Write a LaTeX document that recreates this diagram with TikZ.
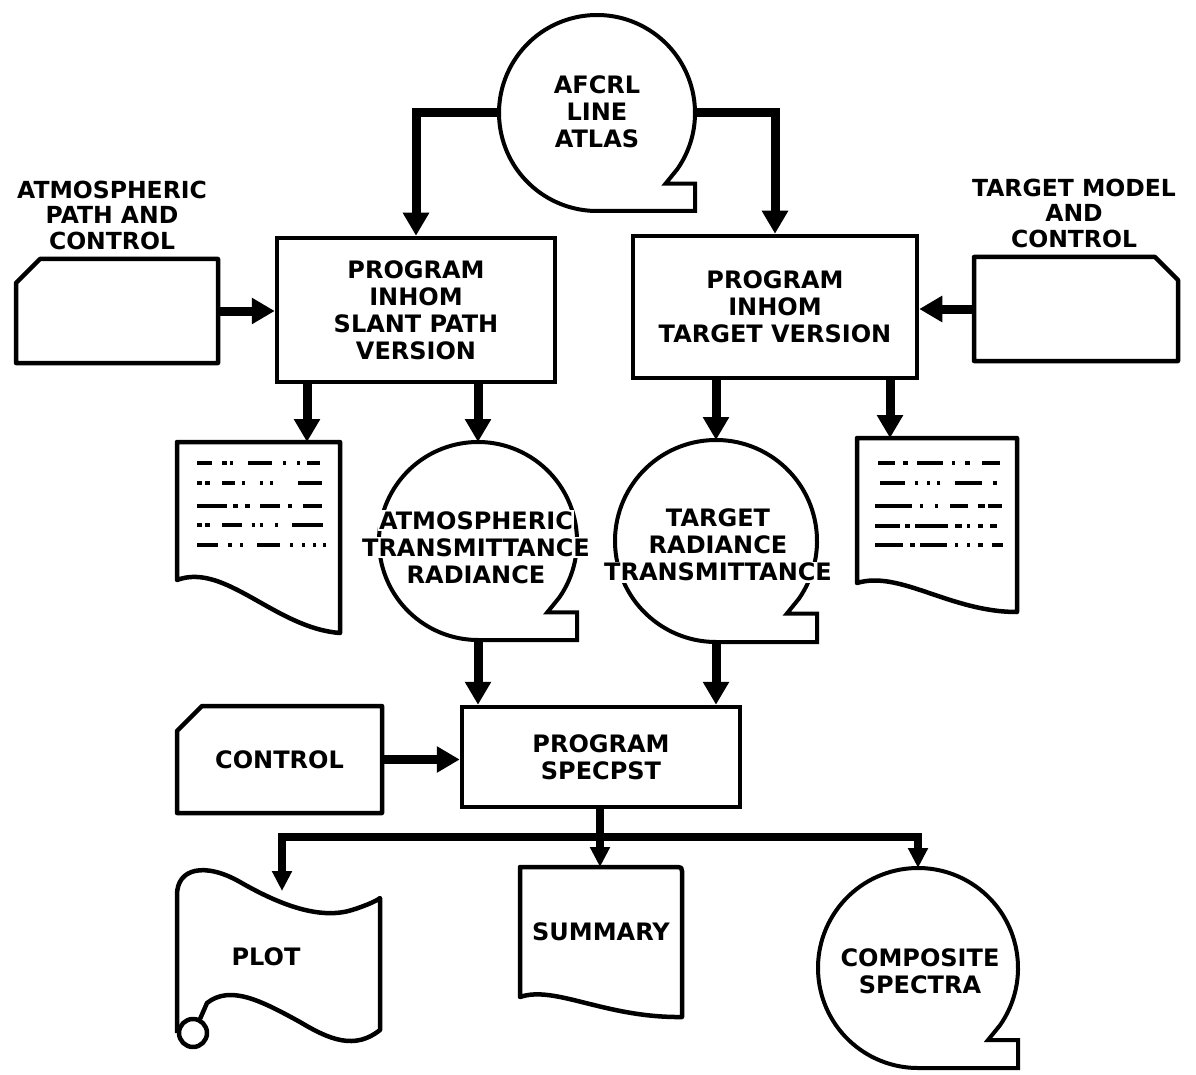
\documentclass[tikz,border=0pt]{standalone}
\usepackage{fontspec}
\setmainfont{DejaVu Sans}
\usetikzlibrary{arrows.meta}
\newcommand{\wl}[1]{{\setlength{\fboxsep}{1.5pt}\colorbox{white}{#1}}}
\newcommand{\tapeshape}[2]{\draw[tapeline] (#1) ++(35:#2) arc[start angle=35,end angle=-270,radius=#2] -- ++(#2,0) -- ++(0,-0.28*#2) -- ++(-0.3*#2,0) -- cycle;}
\begin{document}
\begin{tikzpicture}[x=1pt,y=-1pt,
  shp/.style={line width=4.5pt, line join=round},
  tapeline/.style={line width=4pt, line join=miter},
  txt/.style={font=\fontsize{24}{27}\selectfont\bfseries, align=center, inner sep=0pt},
  lbl/.style={font=\fontsize{23.5}{25.5}\selectfont\bfseries, align=center, inner sep=0pt},
  conn/.style={line width=8pt},
  arr/.style={line width=9pt, -{Triangle[length=23pt,width=25pt]}},
  arrs/.style={line width=8pt, -{Triangle[length=20pt,width=19pt]}},
  dl/.style={line width=3.5pt},
  boxn/.style={draw, line width=4.5pt, inner sep=0pt},
  ghost/.style={inner sep=0pt, outer sep=0pt}
]
\useasboundingbox (0,0) rectangle (1196,1075);
\fill[white] (0,0) rectangle (1196,1075);

% ---------- tapes ----------
\tapeshape{597,113}{98}
\node[ghost, circle, minimum size=196pt] (afcrl) at (597,113) {};
\node[txt] (afcrlT) at (597,112) {AFCRL\\LINE\\ATLAS};

\tapeshape{478,541}{99}
\node[ghost, circle, minimum size=198pt] (atm) at (478,541) {};

\tapeshape{716,541}{101}
\node[ghost, circle, minimum size=202pt] (tgt) at (716,541) {};

\tapeshape{918,968}{100}
\node[ghost, circle, minimum size=200pt] (comp) at (918,968) {};
\node[txt] (compT) at (920,971) {COMPOSITE\\SPECTRA};

\node[txt] (atmT) at (476,547) {\wl{ATMOSPHERIC}\\\wl{TRANSMITTANCE}\\RADIANCE};
\node[txt] (tgtT) at (718,546) {TARGET\\RADIANCE\\\wl{TRANSMITTANCE}};

% ---------- process boxes ----------
\node[boxn, txt, minimum width=278pt, minimum height=144pt] (box1) at (416,310) {PROGRAM\\INHOM\\SLANT PATH\\VERSION};
\node[boxn, txt, minimum width=284pt, minimum height=142pt] (box2) at (775,307) {PROGRAM\\INHOM\\TARGET VERSION};
\node[boxn, txt, minimum width=278pt, minimum height=100pt] (box3) at (601,757) {PROGRAM\\SPECPST};

% ---------- cards ----------
\node[ghost, minimum width=202pt, minimum height=104pt] (card1) at (117,311) {};
\draw[shp] (card1.south west) -- (card1.south east) -- (card1.north east) -- ([xshift=24pt]card1.north west) -- ([yshift=-24pt]card1.north west) -- cycle;
\node[lbl] (lab1) at (112,215) {ATMOSPHERIC\\PATH AND\\CONTROL};

\node[ghost, minimum width=204pt, minimum height=104pt] (card2) at (1076,309) {};
\draw[shp] (card2.south west) -- (card2.north west) -- ([xshift=-23pt]card2.north east) -- ([yshift=-23pt]card2.north east) -- (card2.south east) -- cycle;
\node[lbl] (lab2) at (1074,213) {TARGET MODEL\\AND\\CONTROL};

\node[ghost, txt, minimum width=205pt, minimum height=107pt] (card3) at (279.5,759.5) {CONTROL};
\draw[shp] (card3.south west) -- (card3.south east) -- (card3.north east) -- ([xshift=25pt]card3.north west) -- ([yshift=-25pt]card3.north west) -- cycle;

% ---------- documents ----------
\node[ghost, minimum width=163pt, minimum height=138pt] (doc1) at (258.5,511) {};
\draw[shp] (177,580) -- (177,442) -- (340,442) -- (340,633) .. controls (275,628) and (225,562) .. (177,580) -- cycle;
\foreach \a/\b in {197/212,222/227,230/233,248/272,283/286,297/300,307/320} \draw[dl] (\a,463) -- (\b,463);
\foreach \a/\b in {197/202,205/210,222/235,242/245,260/263,270/273,298/322} \draw[dl] (\a,483) -- (\b,483);
\foreach \a/\b in {197/227,233/238,245/250,260/280,288/292,303/322} \draw[dl] (\a,506) -- (\b,506);
\foreach \a/\b in {197/202,205/210,222/242,252/255,260/263,275/278,292/323} \draw[dl] (\a,525) -- (\b,525);
\foreach \a/\b in {197/218,228/232,240/243,257/280,290/293,302/305,313/316,323/326} \draw[dl] (\a,545) -- (\b,545);

\node[ghost, minimum width=160pt, minimum height=145pt] (doc2) at (937,510.5) {};
\draw[shp] (857,583) -- (857,438) -- (1017,438) -- (1017,612) .. controls (950,612) and (900,570) .. (857,583) -- cycle;
\foreach \a/\b in {878/895,903/908,917/943,952/955,965/970,982/1000} \draw[dl] (\a,463) -- (\b,463);
\foreach \a/\b in {880/905,915/918,927/930,937/940,955/982,993/997} \draw[dl] (\a,483) -- (\b,483);
\foreach \a/\b in {875/912,920/923,935/938,950/968,978/985,988/1002} \draw[dl] (\a,506) -- (\b,506);
\foreach \a/\b in {875/900,905/910,915/948,955/962,967/970,978/983,990/997} \draw[dl] (\a,526) -- (\b,526);
\foreach \a/\b in {875/903,910/915,920/947,955/958,967/970,978/983,992/1003} \draw[dl] (\a,545) -- (\b,545);

\node[ghost, txt, minimum width=162pt, minimum height=130pt] (summ) at (601,932) {SUMMARY};
\draw[shp] (520,997) -- (520,867) -- (678,867) .. controls (681,867) and (682,868) .. (682,871) -- (682,1017) .. controls (605,1018) and (555,985) .. (520,997) -- cycle;

% ---------- plot ----------
\draw[shp] (177,1033) -- (177,895) .. controls (177,868) and (205,862) .. (240,882)
  .. controls (280,905) and (320,920) .. (352,910) .. controls (368,905) and (378,900) .. (380,898)
  -- (380,1030) .. controls (355,1050) and (330,1040) .. (300,1022)
  .. controls (260,1000) and (230,985) .. (207,1003) -- (200,1019);
\draw[shp] (193,1033) circle[radius=14];
\node[txt] (plotT) at (266,957) {PLOT};
\coordinate (plotin) at (282,891);

% ---------- connectors ----------
\draw[arr] (afcrl.west) -| (box1.north);
\draw[arr] (afcrl.east) -| (box2.north);
\draw[arr] (card1.east) -- (card1.east -| box1.west);
\draw[arr] (card2.west) -- (card2.west -| box2.east);
\coordinate (d1in) at (307,442);
\draw[arr] (box1.south -| d1in) -- (d1in);
\draw[arr] (box1.south -| atm.north) -- (atm.north);
\draw[arr] (box2.south -| tgt.north) -- (tgt.north);
\coordinate (d2in) at (890,438);
\draw[arr] (box2.south -| d2in) -- (d2in);
\draw[arr] (atm.south) -- (atm.south |- box3.north);
\draw[arr] (tgt.south) -- (tgt.south |- box3.north);
\draw[arr] (card3.east) -- (card3.east -| box3.west);
\coordinate (jn) at (600,837);
\draw[conn] (box3.south -| jn) -- (jn);
\draw[arrs] (jn) -| (plotin);
\draw[arrs] (jn) -- (jn |- summ.north);
\draw[arrs] (jn) -| (comp.north);
\end{tikzpicture}
\end{document}
